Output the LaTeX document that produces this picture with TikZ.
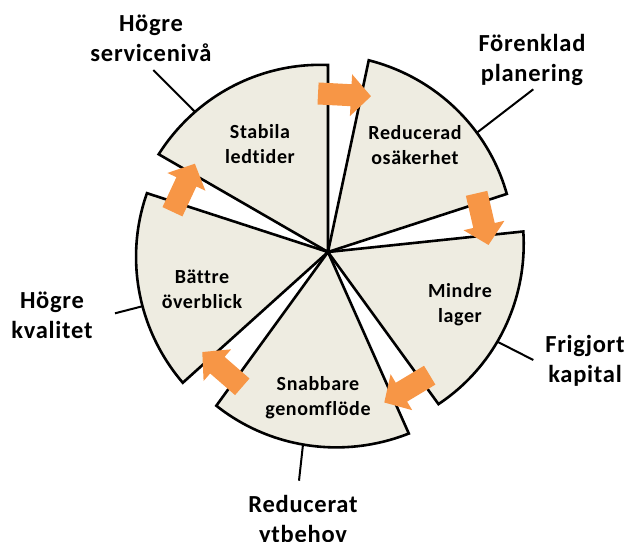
\documentclass[tikz,border=0pt]{standalone}
\usepackage{fontspec}
\setmainfont{Carlito}[Ligatures={NoCommon}, LetterSpace=3]
\definecolor{segfill}{HTML}{EEECE1}
\definecolor{arroworange}{HTML}{F79646}
\begin{document}
\begin{tikzpicture}[x=1pt,y=1pt,
  segment/.style={draw=black, line width=2.6pt, fill=segfill, line join=miter},
  leader/.style={draw=black, line width=2pt},
  flow/.style={fill=arroworange, draw=none},
  inlabel/.style={font=\bfseries\fontsize{20}{25}\selectfont, align=center, inner sep=0pt},
  outlabel/.style={font=\bfseries\fontsize{24.5}{30}\selectfont, align=center, inner sep=0pt}]
\useasboundingbox (-328,-289) rectangle (298,252);
\coordinate (hub) at (0,0);
% sectors
\foreach \a/\ra/\rb in {90/187/195.5, 18/188/196, -54/188/196.4, -126/190/198.7, 162/190.4/195.4} {
  \draw[segment] (hub) -- plot[domain=\a:\a+60, samples=40, variable=\t] (\t:{\ra+(\rb-\ra)*(\t-\a)/60}) -- cycle;
}
% arrows
\foreach \th/\dir in {84/-3, 12/-77, -60/-149, -132/139, 156/65} {
  \begin{scope}[shift={(\th:158)}, rotate=\dir]
    \fill[flow] (-26.5,-11) -- (6.5,-11) -- (6.5,-21) -- (26.5,0) -- (6.5,21) -- (6.5,11) -- (-26.5,11) -- cycle;
  \end{scope}
}
% inner labels
\node[inlabel] (s1) at (-68,108) {Stabila\\ledtider};
\node[inlabel] (s2) at (87,106.7) {Reducerad\\osäkerhet};
\node[inlabel] (s3) at (132,-52.8) {Mindre\\lager};
\node[inlabel] (s4) at (-10,-145.5) {Snabbare\\genomflöde};
\node[inlabel] (s5) at (-126,-37.7) {Bättre\\överblick};
% outer labels
\node[outlabel] (o1) at (-177,214.1) {Högre\\servicenivå};
\node[outlabel] (o2) at (204,191.7) {Förenklad\\planering};
\node[outlabel] (o3) at (257,-108.8) {Frigjort\\kapital};
\node[outlabel] (o4) at (-276,-63) {Högre\\kvalitet};
\node[outlabel] (o5) at (-25,-268.9) {Reducerat\\ytbehov};
% leader lines
\coordinate (e1) at (133.5:193.2);
\coordinate (e2) at (38.7:190.8);
\coordinate (e3) at (-27.9:191.7);
\coordinate (e4) at (-97.4:194.1);
\coordinate (e5) at (196.3:193.3);
\coordinate (t1) at (-174.7,182);
\coordinate (t2) at (205.3,162.7);
\coordinate (t3) at (205.3,-108);
\coordinate (t4) at (-29,-228.7);
\coordinate (t5) at (-213,-61.3);
\draw[leader] (e1) -- (t1);
\draw[leader] (e2) -- (t2);
\draw[leader] (e3) -- (t3);
\draw[leader] (e4) -- (t4);
\draw[leader] (e5) -- (t5);
\end{tikzpicture}
\end{document}
